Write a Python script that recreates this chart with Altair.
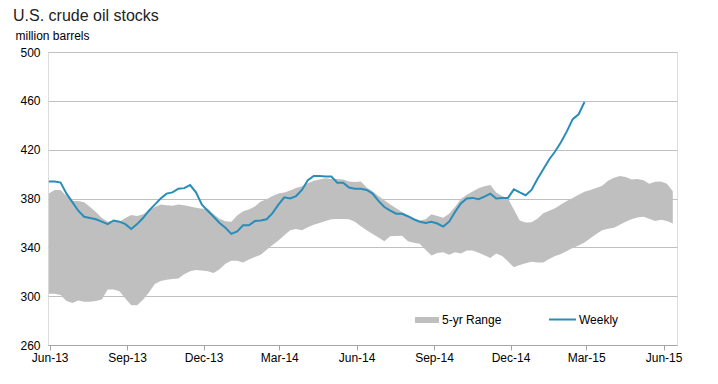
import altair as alt
import pandas as pd

# Weekly U.S. crude oil stocks (million barrels), weekly from 2013-05-31
weekly = [394, 394, 393, 384, 377, 370, 365, 364, 363, 361, 359, 362, 361, 359, 355, 359,
          364, 370, 375, 380, 384, 385, 388, 388.5, 391, 385, 375, 370, 365, 360, 356, 351,
          353, 358, 358, 361.5, 362, 363, 368, 375, 381, 380, 382, 387, 395, 398.5, 398.5,
          398, 398, 393, 393, 389, 388, 388, 387, 384, 378, 373, 370, 367.5, 367.5, 365.5,
          363, 361, 360, 361, 359.5, 357, 361, 369, 376, 380, 380.5, 379.5, 381.5, 384, 380,
          380.5, 380.5, 387.5, 385, 382.7, 387, 396, 404, 412, 418.5, 426, 435, 445, 449, 459]

# 5-year range, upper and lower edges, same weekly dates
range_hi = [384, 387, 387, 382, 378, 378, 377, 373, 369, 364, 361, 362, 361, 364, 366.5, 365.6,
            367, 370, 373, 375, 374.5, 374, 375, 374.5, 373.4, 372.5, 371.7, 371.7, 367, 363.5,
            361.4, 361, 366, 369.5, 371, 373.5, 377.5, 379.4, 382, 384, 385, 386.5, 388.5, 390,
            392.5, 394.5, 395.5, 396.6, 396, 396, 395.5, 394, 393.5, 394, 389, 386, 382, 378.5,
            375, 372, 369, 366, 363.4, 362, 363, 367, 365.6, 364.3, 367.5, 373, 379.5, 383,
            385.8, 388.3, 390, 391, 385, 382, 380, 371, 362, 360.3, 360.5, 363.5, 368, 370, 372,
            375, 378, 380.5, 383, 385.5, 387, 388.5, 390.5, 394.6, 397, 398.5, 397.6, 395.5,
            396, 395, 392, 393.7, 394, 392, 386]
range_lo = [302, 302, 301, 296, 294.5, 296.5, 295.5, 295.5, 296, 297.2, 305.5, 305.5, 304, 298,
            292.5, 292.5, 297, 303, 310, 312.5, 313.5, 314, 314.5, 318, 320.5, 321.4, 321, 320.5,
            319, 322, 326.5, 329, 329, 327.5, 330, 332, 334, 338, 342, 345.5, 350, 354, 355, 354,
            356.5, 358.5, 360, 361.5, 363, 363.2, 363.2, 363, 361, 357.3, 354, 351, 348, 345,
            349, 349.3, 349.5, 345, 343.8, 343, 338, 333.3, 335.3, 336, 334, 336, 335, 337.5,
            337.5, 335.5, 333.5, 331.3, 335, 333, 328.5, 323.7, 325.5, 327, 328.2, 327.5, 327.5,
            330.5, 333, 334.5, 337, 339.5, 341.5, 344, 347.5, 351, 354, 355.3, 356, 358.5, 361,
            363, 364.5, 365, 363.5, 361.6, 362.5, 361.5, 359.5]

y_ticks = [260, 300, 340, 380, 420, 460, 500]
x_ticks = [(2013, 6), (2013, 9), (2013, 12), (2014, 3), (2014, 6), (2014, 9),
           (2014, 12), (2015, 3), (2015, 6)]

start = pd.Timestamp("2013-05-31")
band_dates = [(start + pd.Timedelta(days=7 * i)).strftime("%Y-%m-%d") for i in range(len(range_hi))]
week_dates = band_dates[:len(weekly)]

band_df = pd.DataFrame({"date": band_dates, "lo": range_lo, "hi": range_hi, "band": "5-yr Range"})
line_df = pd.DataFrame({"date": week_dates, "value": weekly, "series": "Weekly"})

FONT = "Liberation Sans"
GRAY_BAND = "#bfbfbf"
BLUE = "#2a8db8"

x_scale = alt.Scale(type="utc", domain=[alt.DateTime(year=2013, month=5, date=30, utc=True),
                                        alt.DateTime(year=2015, month=6, date=17, utc=True)])
y_scale = alt.Scale(domain=[260, 500], nice=False, zero=False)

x_axis = alt.Axis(values=[alt.DateTime(year=y, month=m, date=1, utc=True) for y, m in x_ticks],
                  format="%b-%y", title=None, grid=False, domainColor="#a6a6a6",
                  tickColor="#a6a6a6", tickSize=5, labelFontSize=12, labelColor="#000000",
                  labelFont=FONT, labelPadding=2, labelFlush=False)
y_axis = alt.Axis(values=y_ticks, title="million barrels", titleAngle=0, titleAlign="left",
                  titleBaseline="alphabetic", titleX=-33, titleY=-13, titleFontSize=12,
                  titleFontWeight="normal", titleFont=FONT, titleColor="#000000",
                  domain=False, ticks=False, grid=True, gridColor="#c0c0c0",
                  labelFontSize=12, labelFont=FONT, labelColor="#000000", labelPadding=8)

area = alt.Chart(band_df).mark_area(opacity=1, interpolate="linear").encode(
    x=alt.X("date:T", scale=x_scale, axis=x_axis),
    y=alt.Y("lo:Q", scale=y_scale, axis=y_axis),
    y2="hi:Q",
    fill=alt.Fill("band:N", scale=alt.Scale(domain=["5-yr Range"], range=[GRAY_BAND]),
                  legend=alt.Legend(orient="none", legendX=367, legendY=256, title=None,
                                    symbolType="M-1,-0.25L1,-0.25L1,0.25L-1,0.25Z",
                                    symbolSize=576, symbolStrokeWidth=0, labelFontSize=12,
                                    labelFont=FONT, labelColor="#000000", labelOffset=3)),
)

line = alt.Chart(line_df).mark_line(strokeWidth=2, interpolate="linear").encode(
    x=alt.X("date:T", scale=x_scale),
    y=alt.Y("value:Q", scale=y_scale),
    stroke=alt.Stroke("series:N", scale=alt.Scale(domain=["Weekly"], range=[BLUE]),
                      legend=alt.Legend(orient="none", legendX=500, legendY=253, title=None,
                                        symbolType="stroke", symbolSize=729,
                                        symbolStrokeWidth=2, labelFontSize=12,
                                        labelFont=FONT, labelColor="#000000", labelOffset=2)),
)

chart = alt.layer(area, line).resolve_scale(fill="independent", stroke="independent").properties(
    width=629, height=293,
    title=alt.TitleParams("U.S. crude oil stocks", anchor="start", frame="group", dx=-35,
                          dy=20, fontSize=16, fontWeight="normal", font=FONT, color="#222222",
                          baseline="alphabetic", offset=12),
    autosize=alt.AutoSizeParams(type="none"),
    padding={"left": 40, "top": 44, "right": 25, "bottom": 30},
).configure_view(stroke=None).configure(background="white")

chart.save("out.html", embed_options={"renderer": "svg", "actions": False})
